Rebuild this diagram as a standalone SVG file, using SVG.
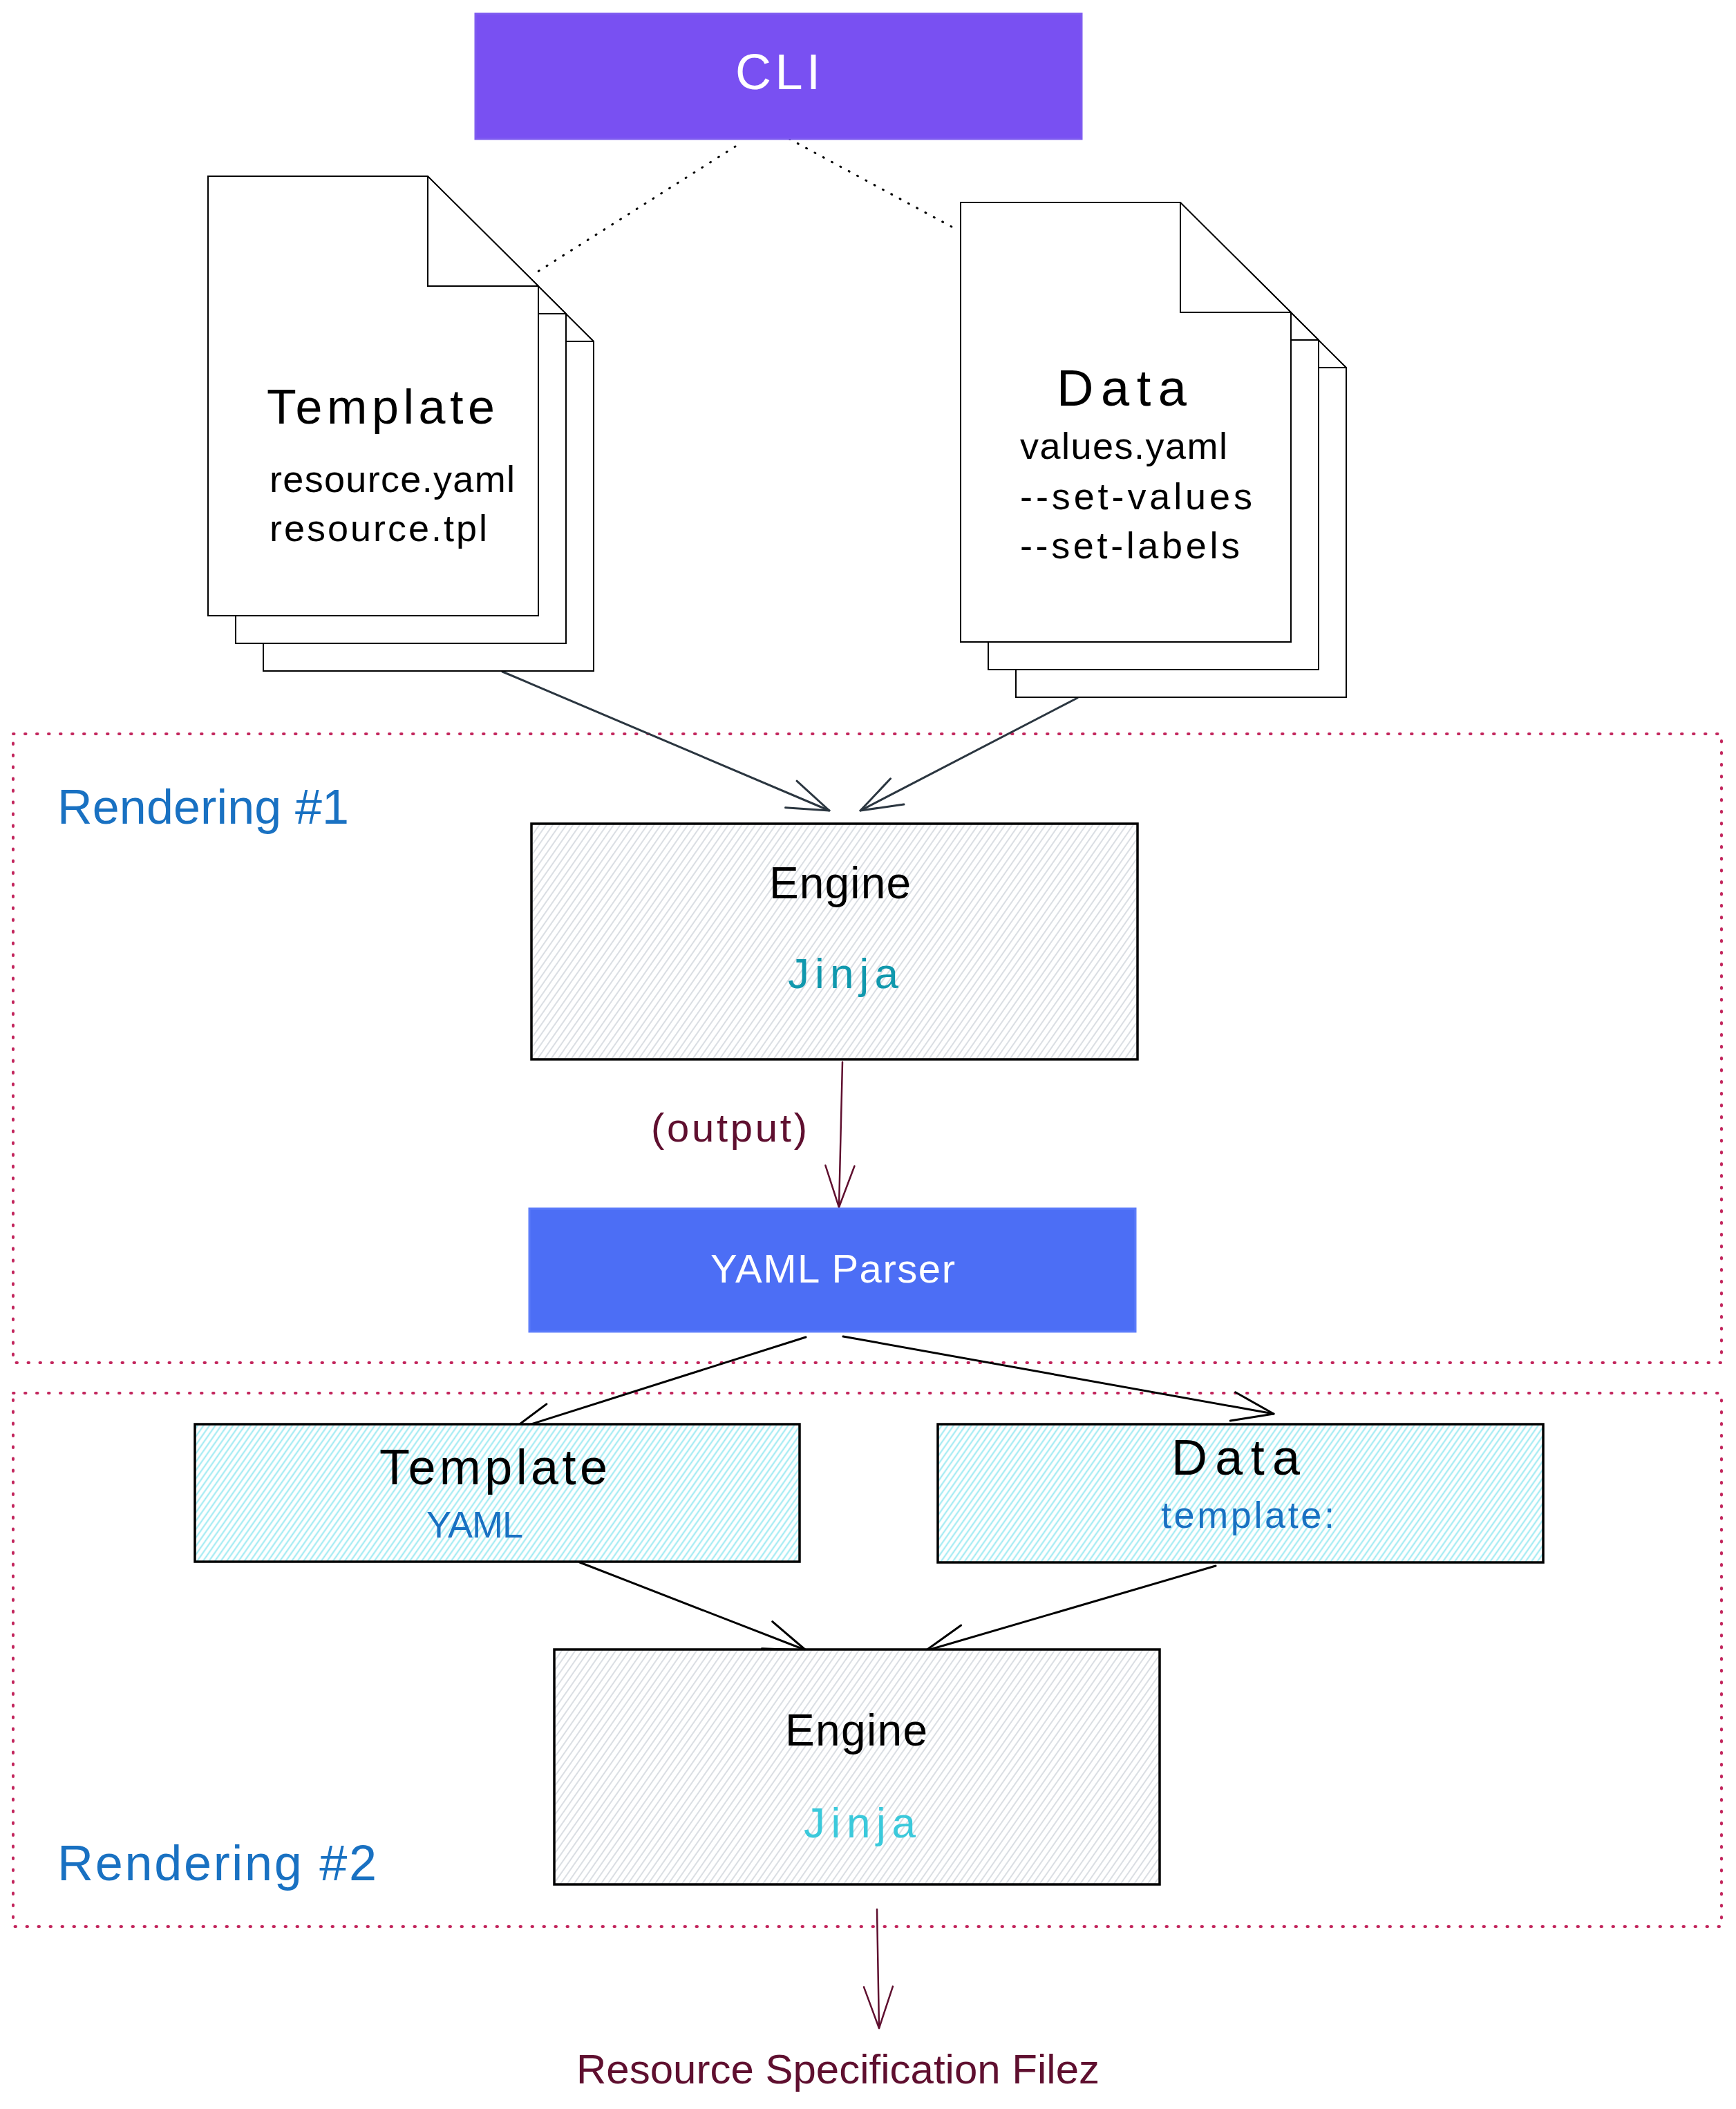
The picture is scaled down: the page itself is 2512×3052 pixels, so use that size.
<svg xmlns="http://www.w3.org/2000/svg" width="2512" height="3052" viewBox="0 0 2512 3052">
  <style>
    text { font-family: "Liberation Sans", Arial, sans-serif; }
    .doc { fill: #ffffff; stroke: #000000; stroke-width: 2; stroke-linejoin: miter; }
    .fold { fill: none; stroke: #000000; stroke-width: 2; }
    .box { stroke: #000000; stroke-width: 3.5; }
    .frame { fill: none; stroke: #c2255c; stroke-width: 4; stroke-dasharray: 1.5 15.5; stroke-linecap: round; }
    .dots { fill: none; stroke: #000000; stroke-width: 3; stroke-dasharray: 1 13; stroke-linecap: round; }
    .arr { fill: none; stroke-width: 3; stroke-linecap: round; }
    .slate { stroke: #2b3640; marker-end: url(#ahSlate); }
    .black { stroke: #000000; marker-end: url(#ahBlack); }
    .maroon { stroke: #5f0f2f; stroke-width: 2.5; marker-end: url(#ahMaroon); }
    .k { fill: #000000; }
    .w { fill: #ffffff; }
    .blue { fill: #1971c2; }
    .mar { fill: #5f0f2f; }
  </style>
  <defs>
    <pattern id="hGray" patternUnits="userSpaceOnUse" width="8" height="8" patternTransform="rotate(35)">
      <rect width="8" height="8" fill="#ffffff"/>
      <line x1="4" y1="0" x2="4" y2="8" stroke="#ced4da" stroke-width="1.5"/>
    </pattern>
    <pattern id="hCyan" patternUnits="userSpaceOnUse" width="7" height="7" patternTransform="rotate(35)">
      <rect width="7" height="7" fill="#ffffff"/>
      <line x1="3.5" y1="0" x2="3.5" y2="7" stroke="#99e9f2" stroke-width="2"/>
    </pattern>
    <marker id="ahSlate" markerUnits="userSpaceOnUse" markerWidth="140" markerHeight="140" viewBox="-70 -70 140 140" refX="0" refY="0" orient="auto" overflow="visible">
      <path d="M -60 -21 L 0 0 L -60 21" fill="none" stroke="#2b3640" stroke-width="3" stroke-linecap="round" stroke-linejoin="round"/>
    </marker>
    <marker id="ahBlack" markerUnits="userSpaceOnUse" markerWidth="140" markerHeight="140" viewBox="-70 -70 140 140" refX="0" refY="0" orient="auto" overflow="visible">
      <path d="M -60 -21 L 0 0 L -60 21" fill="none" stroke="#000000" stroke-width="3" stroke-linecap="round" stroke-linejoin="round"/>
    </marker>
    <marker id="ahMaroon" markerUnits="userSpaceOnUse" markerWidth="140" markerHeight="140" viewBox="-70 -70 140 140" refX="0" refY="0" orient="auto" overflow="visible">
      <path d="M -60 -21 L 0 0 L -60 21" fill="none" stroke="#5f0f2f" stroke-width="2.5" stroke-linecap="round" stroke-linejoin="round"/>
    </marker>
  </defs>

  <rect width="2512" height="3052" fill="#ffffff"/>

  <!-- group frames -->
  <g id="rendering1">
    <rect class="frame" x="19" y="1062" width="2472" height="910"/>
    <text class="blue" x="83" y="1192" font-size="70" textLength="422">Rendering #1</text>
  </g>
  <g id="rendering2">
    <rect class="frame" x="19" y="2016" width="2472" height="772"/>
    <text class="blue" x="83" y="2721" font-size="72" textLength="462">Rendering #2</text>
  </g>

  <!-- connectors -->
  <g id="connectors">
    <path class="dots" d="M 1064 212 L 772 397"/>
    <path class="dots" d="M 1142 201 L 1386 333"/>
    <path class="arr slate" d="M 727 972 L 1200 1173"/>
    <path class="arr slate" d="M 1559 1010 L 1245 1173"/>
    <path class="arr maroon" d="M 1219 1537 L 1214 1747"/>
    <path class="arr black" d="M 1166 1935 L 740 2070"/>
    <path class="arr black" d="M 1220 1934 L 1843 2046"/>
    <path class="arr black" d="M 839 2261 L 1166 2388"/>
    <path class="arr black" d="M 1759 2266 L 1339 2389"/>
    <path class="arr maroon" d="M 1269 2763 L 1272 2935"/>
    <text class="mar" x="942" y="1652" font-size="58" textLength="226">(output)</text>
  </g>

  <g id="cli">
    <rect x="688" y="20" width="877" height="181" fill="#7950f2" stroke="#7e5bf0" stroke-width="3"/>
    <text class="w" x="1064" y="129" font-size="72" textLength="123">CLI</text>
  </g>

  <g id="template-doc">
    <path class="doc" d="M 381 335 H 699 L 859 494 V 971 H 381 Z"/>
    <path class="fold" d="M 699 335 V 494 H 859"/>
    <path class="doc" d="M 341 295 H 659 L 819 454 V 931 H 341 Z"/>
    <path class="fold" d="M 659 295 V 454 H 819"/>
    <path class="doc" d="M 301 255 H 619 L 779 414 V 891 H 301 Z"/>
    <path class="fold" d="M 619 255 V 414 H 779"/>
    <text class="k" x="386" y="613" font-size="70" textLength="330">Template</text>
    <text class="k" x="390" y="712" font-size="54" textLength="355">resource.yaml</text>
    <text class="k" x="390" y="783" font-size="54" textLength="315">resource.tpl</text>
  </g>

  <g id="data-doc">
    <path class="doc" d="M 1470 373 H 1788 L 1948 532 V 1009 H 1470 Z"/>
    <path class="fold" d="M 1788 373 V 532 H 1948"/>
    <path class="doc" d="M 1430 333 H 1748 L 1908 492 V 969 H 1430 Z"/>
    <path class="fold" d="M 1748 333 V 492 H 1908"/>
    <path class="doc" d="M 1390 293 H 1708 L 1868 452 V 929 H 1390 Z"/>
    <path class="fold" d="M 1708 293 V 452 H 1868"/>
    <text class="k" x="1529" y="587" font-size="74" textLength="188">Data</text>
    <text class="k" x="1476" y="664" font-size="54" textLength="300">values.yaml</text>
    <text class="k" x="1476" y="737" font-size="54" textLength="336">--set-values</text>
    <text class="k" x="1476" y="808" font-size="54" textLength="318">--set-labels</text>
  </g>

  <g id="engine1">
    <rect class="box" x="769" y="1192" width="877" height="341" fill="url(#hGray)"/>
    <text class="k" x="1113" y="1300" font-size="64" textLength="205">Engine</text>
    <text x="1140" y="1430" font-size="62" textLength="160" fill="#1098ad">Jinja</text>
  </g>

  <g id="yaml-parser">
    <rect x="766" y="1749" width="877" height="178" fill="#4c6ef5" stroke="#5c7cfa" stroke-width="3"/>
    <text class="w" x="1028" y="1856" font-size="58" textLength="354">YAML Parser</text>
  </g>

  <g id="template-box">
    <rect class="box" x="282" y="2061" width="875" height="199" fill="url(#hCyan)"/>
    <text class="k" x="549" y="2148" font-size="72" textLength="330">Template</text>
    <text class="blue" x="617" y="2225" font-size="54" textLength="140">YAML</text>
  </g>

  <g id="data-box">
    <rect class="box" x="1357" y="2061" width="876" height="200" fill="url(#hCyan)"/>
    <text class="k" x="1695" y="2134" font-size="72" textLength="186">Data</text>
    <text class="blue" x="1680" y="2211" font-size="54" textLength="251">template:</text>
  </g>

  <g id="engine2">
    <rect class="box" x="802" y="2387" width="876" height="340" fill="url(#hGray)"/>
    <text class="k" x="1136" y="2526" font-size="64" textLength="206">Engine</text>
    <text x="1163" y="2659" font-size="62" textLength="162" fill="#3bc9db">Jinja</text>
  </g>

  <g id="output">
    <text class="mar" x="834" y="3015" font-size="60" textLength="757">Resource Specification Filez</text>
  </g>
</svg>
